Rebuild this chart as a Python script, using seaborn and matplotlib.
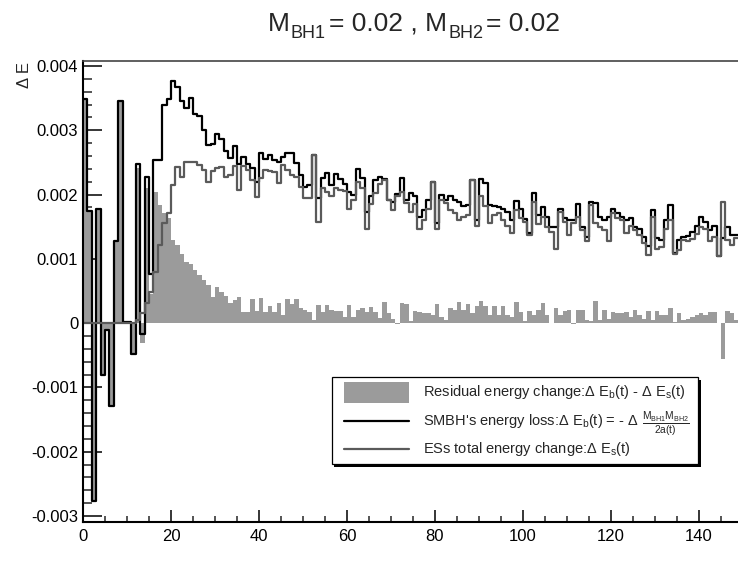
import numpy as np
import pandas as pd
import matplotlib
matplotlib.use("Agg")
import matplotlib.pyplot as plt
from matplotlib.patches import Rectangle
from matplotlib.lines import Line2D
import seaborn as sns

# ---- data (values in units of 1e-3) ----
bin_edges = list(range(0, 150))

eb_milli = [3.48, 1.74, -2.77, 1.78, -0.81, -0.10, -1.29, 1.28, 3.46, 0.02,
            0.02, -0.48, 2.47, -0.17, 2.28, 0.77, 2.54, 2.54, 3.39, 3.48,
            3.76, 3.67, 3.45, 3.34, 3.50, 3.26, 3.22, 3.01, 2.77, 2.78,
            2.94, 2.87, 2.68, 2.57, 2.76, 2.48, 2.58, 2.48, 2.42, 2.20,
            2.64, 2.56, 2.61, 2.54, 2.50, 2.59, 2.65, 2.65, 2.49, 2.30,
            2.12, 2.15, 2.62, 1.94, 2.25, 2.34, 2.15, 2.32, 2.24, 2.17,
            2.04, 1.99, 2.39, 2.25, 1.73, 1.98, 2.22, 2.27, 2.24, 1.91,
            1.89, 2.01, 2.25, 1.92, 2.03, 1.97, 1.65, 1.76, 1.91, 2.20,
            1.55, 1.99, 1.91, 1.98, 1.91, 1.89, 1.82, 1.84, 2.22, 1.60,
            2.24, 2.18, 1.84, 1.82, 1.80, 1.77, 1.73, 1.60, 1.90, 1.77,
            1.62, 1.40, 2.03, 1.68, 1.80, 1.65, 1.50, 1.50, 1.77, 1.63,
            1.60, 1.60, 1.85, 1.50, 1.34, 1.89, 1.87, 1.65, 1.60, 1.65,
            1.77, 1.71, 1.65, 1.60, 1.63, 1.50, 1.47, 1.34, 1.20, 1.76,
            1.32, 1.30, 1.60, 1.84, 1.09, 1.29, 1.34, 1.35, 1.41, 1.51,
            1.65, 1.58, 1.45, 1.51, 1.04, 1.33, 1.49, 1.37, 1.37]

es_milli = [0.00, 0.00, 0.00, 0.00, 0.00, 0.00, 0.00, 0.00, 0.00, 0.00,
            0.00, 0.00, 0.05, 0.16, 0.31, 0.49, 0.80, 1.21, 1.55, 1.72,
            2.15, 2.43, 2.27, 2.51, 2.50, 2.50, 2.46, 2.38, 2.20, 2.36,
            2.41, 2.43, 2.27, 2.31, 2.44, 2.07, 2.44, 2.38, 2.22, 1.96,
            2.25, 2.38, 2.37, 2.35, 2.18, 2.46, 2.38, 2.30, 2.28, 2.12,
            1.94, 1.94, 2.61, 1.58, 2.10, 2.04, 1.97, 2.10, 2.07, 2.06,
            1.77, 1.91, 2.20, 2.10, 1.47, 1.86, 2.03, 2.17, 2.22, 1.91,
            1.76, 1.97, 2.04, 1.87, 1.73, 1.86, 1.47, 1.60, 1.78, 2.20,
            1.47, 1.91, 1.87, 1.76, 1.71, 1.60, 1.65, 1.68, 2.22, 1.51,
            1.97, 1.82, 1.55, 1.68, 1.71, 1.60, 1.51, 1.40, 1.76, 1.63,
            1.58, 1.37, 1.89, 1.54, 1.65, 1.50, 1.42, 1.16, 1.73, 1.58,
            1.37, 1.55, 1.65, 1.45, 1.28, 1.84, 1.55, 1.49, 1.45, 1.28,
            1.71, 1.64, 1.60, 1.40, 1.51, 1.45, 1.37, 1.24, 1.06, 1.65,
            1.16, 1.18, 1.47, 1.60, 1.07, 1.13, 1.29, 1.28, 1.31, 1.38,
            1.50, 1.46, 1.28, 1.34, 1.04, 1.89, 1.30, 1.21, 1.32]

res_milli = [3.48, 1.74, -2.77, 1.77, -0.81, -0.10, -1.29, 1.28, 3.46, 0.00,
             0.00, -0.48, 2.42, -0.31, 2.10, 0.45, 2.04, 1.84, 1.71, 1.63,
             1.30, 1.22, 1.07, 0.95, 0.92, 0.82, 0.75, 0.67, 0.59, 0.41,
             0.56, 0.49, 0.42, 0.31, 0.36, 0.40, 0.18, 0.18, 0.37, 0.19,
             0.39, 0.18, 0.27, 0.18, 0.32, 0.12, 0.37, 0.30, 0.37, 0.24,
             0.21, 0.18, 0.05, 0.28, 0.17, 0.28, 0.20, 0.19, 0.19, 0.10,
             0.28, 0.10, 0.21, 0.24, 0.17, 0.25, 0.17, 0.08, 0.33, 0.15,
             0.07, -0.02, 0.31, 0.29, 0.04, 0.19, 0.17, 0.16, 0.15, 0.12,
             0.30, 0.10, 0.05, 0.24, 0.20, 0.33, 0.20, 0.30, 0.16, 0.27,
             0.34, 0.27, 0.12, 0.26, 0.13, 0.27, 0.12, 0.10, 0.33, 0.17,
             0.04, 0.19, 0.12, 0.20, 0.32, 0.12, 0.00, 0.23, 0.12, 0.19,
             0.20, -0.02, 0.20, 0.20, 0.05, 0.04, 0.35, 0.05, 0.21, 0.07,
             0.17, 0.16, 0.15, 0.17, 0.09, 0.21, 0.12, 0.07, 0.19, 0.05,
             0.19, 0.12, 0.13, 0.24, 0.02, 0.16, 0.05, 0.07, 0.10, 0.13,
             0.15, 0.12, 0.17, 0.17, 0.00, -0.56, 0.19, 0.16, 0.05]

y_ticks = [-0.003, -0.002, -0.001, 0.0, 0.001, 0.002, 0.003, 0.004]
y_tick_labels = ["-0.003", "-0.002", "-0.001", "0", "0.001", "0.002", "0.003", "0.004"]
x_ticks = [0, 20, 40, 60, 80, 100, 120, 140]
x_tick_labels = ["0", "20", "40", "60", "80", "100", "120", "140"]

# ---- style ----
sns.set_style("ticks")
plt.rcParams["font.family"] = ["Liberation Sans", "DejaVu Sans"]
plt.rcParams["mathtext.fontset"] = "custom"
plt.rcParams["mathtext.rm"] = "Liberation Sans"
plt.rcParams["mathtext.it"] = "Liberation Sans:italic"
plt.rcParams["mathtext.bf"] = "Liberation Sans:bold"
plt.rcParams["mathtext.sf"] = "Liberation Sans"

W, H = 738, 561
fig = plt.figure(figsize=(W / 100, H / 100), dpi=100)
renderer = fig.canvas.get_renderer()

def fx(px):
    return px / W

def fy(py):
    return 1 - py / H

x0_px, x1_px = 83, 83 + 150 * 4.4
y0_px, y1_px = 522, 60.7
ax = fig.add_axes([fx(x0_px), fy(y0_px), (x1_px - x0_px) / W, (y0_px - y1_px) / H])

edges = [float(e) for e in bin_edges]
df = pd.DataFrame({
    "t": np.array(edges[:-1]) + 0.5,
    "eb": np.array(eb_milli) * 1e-3,
    "es": np.array(es_milli) * 1e-3,
    "res": np.array(res_milli) * 1e-3,
})

fill_col = "#9b9b9b"
gray_col = "#5a5a5a"

sns.histplot(data=df, x="t", weights="res", bins=edges, element="step", fill=True,
             color=fill_col, alpha=1.0, linewidth=0, ax=ax)
sns.histplot(data=df, x="t", weights="eb", bins=edges, element="step", fill=False,
             color="black", linewidth=1.6, ax=ax)
sns.histplot(data=df, x="t", weights="es", bins=edges, element="step", fill=False,
             color=gray_col, linewidth=1.6, ax=ax)

ax.set_xlim(0, 150)
ax.set_ylim(-0.003093, 0.004082)
ax.set_xlabel("")
ax.set_ylabel("")

ax.set_yticks(y_ticks)
ax.set_yticklabels(y_tick_labels)
ax.set_xticks(x_ticks)
ax.set_xticklabels(x_tick_labels)
ax.set_yticks(np.arange(-0.003, 0.0041, 0.0002), minor=True)
ax.set_xticks(np.arange(0, 150, 5), minor=True)

ax.tick_params(axis="y", which="major", direction="in", length=13.5, width=1.1,
               labelsize=12, pad=3.5, colors="black")
ax.tick_params(axis="y", which="minor", direction="in", length=6.5, width=1.1)
ax.tick_params(axis="x", which="major", direction="in", length=8.6, width=1.1,
               labelsize=12, pad=5, colors="black")
ax.tick_params(axis="x", which="minor", direction="in", length=4.3, width=1.1)

for side in ["left", "bottom"]:
    ax.spines[side].set_linewidth(1.5)
    ax.spines[side].set_color("black")
ax.spines["top"].set_visible(True)
ax.spines["top"].set_linewidth(1.2)
ax.spines["top"].set_color("#444444")
ax.spines["right"].set_visible(False)

# y axis label (ROOT style, top of axis)
fig.text(fx(25), fy(62), "Δ E", rotation=90, ha="center", va="top", fontsize=12)

# title, ROOT-like subscripts (set lower than matplotlib's default)
main_fs, sub_fs = 19, 13
pieces = [("M", main_fs, 0, 1.5), ("BH1", sub_fs, 7, 3),
          ("= 0.02 , M", main_fs, 0, 1.5), ("BH2", sub_fs, 7, 3),
          ("= 0.02", main_fs, 0, 0)]
title_texts = []
widths = []
for s, fs, drop, gap in pieces:
    t = fig.text(0, fy(31 + drop), s, fontsize=fs, ha="left", va="baseline")
    title_texts.append(t)
    widths.append(t.get_window_extent(renderer=renderer).width)
total = sum(widths) + sum(p[3] for p in pieces)
xcur = 414 - total / 2
for t, w, p in zip(title_texts, widths, pieces):
    t.set_x(fx(xcur))
    xcur += w + p[3]

# legend box (ROOT-like with shadow)
lx0, lx1, ly0, ly1 = 331.7, 698, 377, 464
fig.add_artist(Rectangle((fx(lx0 + 2.5), fy(ly1 + 2.5)), (lx1 - lx0) / W, (ly1 - ly0) / H,
                         transform=fig.transFigure, facecolor="black", edgecolor="none", zorder=10))
fig.add_artist(Rectangle((fx(lx0), fy(ly1)), (lx1 - lx0) / W, (ly1 - ly0) / H,
                         transform=fig.transFigure, facecolor="white", edgecolor="black",
                         linewidth=0.9, zorder=11))
fig.add_artist(Rectangle((fx(344), fy(403)), 65 / W, 21 / H, transform=fig.transFigure,
                         facecolor=fill_col, edgecolor="none", zorder=12))
fig.add_artist(Line2D([fx(344), fx(409)], [fy(421), fy(421)], transform=fig.transFigure,
                      color="black", linewidth=1.6, zorder=12))
fig.add_artist(Line2D([fx(344), fx(409)], [fy(449), fy(449)], transform=fig.transFigure,
                      color=gray_col, linewidth=1.6, zorder=12))

leg_fs = 10.5
fig.text(fx(423), fy(392),
         r"Residual energy change:$\Delta$ E$_{\mathrm{b}}$(t) - $\Delta$ E$_{\mathrm{s}}$(t)",
         ha="left", va="center", fontsize=leg_fs, zorder=13)
t2 = fig.text(fx(423), fy(421),
              r"SMBH's energy loss:$\Delta$ E$_{\mathrm{b}}$(t) = - $\Delta$",
              ha="left", va="center", fontsize=leg_fs, zorder=13)
bb = t2.get_window_extent(renderer=renderer)
fig.text(fx(bb.x1 + 3), fy(424),
         r"$\dfrac{\mathrm{M_{BH1}M_{BH2}}}{\mathrm{2a(t)}}$",
         ha="left", va="center", fontsize=7.4, zorder=13)
fig.text(fx(423), fy(449),
         r"ESs total energy change:$\Delta$ E$_{\mathrm{s}}$(t)",
         ha="left", va="center", fontsize=leg_fs, zorder=13)

fig.savefig("out.png", dpi=100)
